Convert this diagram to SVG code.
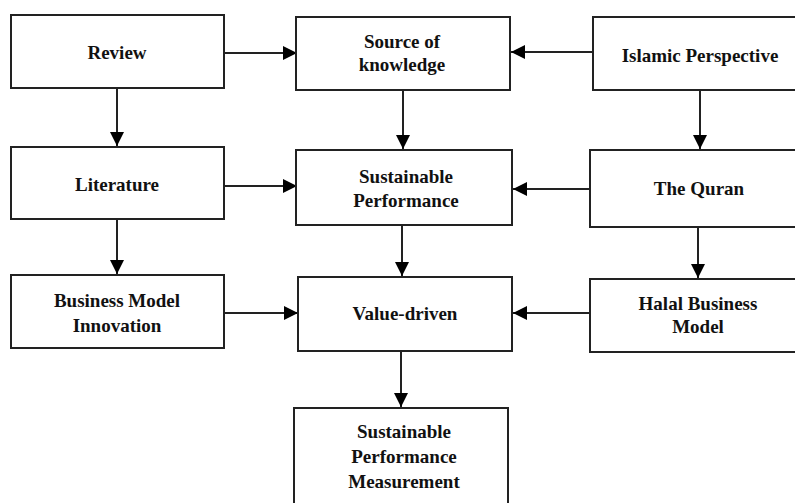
<svg xmlns="http://www.w3.org/2000/svg" width="795" height="503" viewBox="0 0 795 503">
<style>
.box{fill:#fff;stroke:#222;stroke-width:2}
.t{font-family:"Liberation Serif","Times New Roman",serif;font-weight:bold;font-size:19px;fill:#111;text-anchor:middle}
.c{stroke:#222;stroke-width:2;fill:none;marker-end:url(#ah)}
</style>
<defs>
<marker id="ah" markerUnits="userSpaceOnUse" markerWidth="14" markerHeight="14" viewBox="0 0 14 14" refX="14" refY="7" orient="auto">
<path d="M0,0 L14,7 L0,14 Z" fill="#000"/>
</marker>
</defs>
<rect width="795" height="503" fill="#fff"/>
<g id="connectors">
<line class="c" x1="224" y1="53" x2="297" y2="53"/>
<line class="c" x1="593" y1="52" x2="511" y2="52"/>
<line class="c" x1="117" y1="88" x2="117" y2="146"/>
<line class="c" x1="403" y1="90" x2="403" y2="149"/>
<line class="c" x1="700" y1="90" x2="700" y2="149"/>
<line class="c" x1="224" y1="186" x2="297" y2="186"/>
<line class="c" x1="590" y1="189" x2="513" y2="189"/>
<line class="c" x1="117" y1="219" x2="117" y2="274"/>
<line class="c" x1="402" y1="225" x2="402" y2="276"/>
<line class="c" x1="698" y1="227" x2="698" y2="278"/>
<line class="c" x1="224" y1="313" x2="298" y2="313"/>
<line class="c" x1="590" y1="313" x2="513" y2="313"/>
<line class="c" x1="401" y1="351" x2="401" y2="407"/>
</g>
<g id="review"><rect class="box" x="11" y="15" width="213" height="73"/><text class="t" x="117" y="59">Review</text></g>
<g id="source"><rect class="box" x="296" y="17" width="214" height="73"/><text class="t" x="402" y="48">Source of</text><text class="t" x="402" y="71">knowledge</text></g>
<g id="islamic"><rect class="box" x="593" y="17" width="230" height="73"/><text class="t" x="700" y="62">Islamic Perspective</text></g>
<g id="literature"><rect class="box" x="11" y="147" width="213" height="72"/><text class="t" x="117" y="191">Literature</text></g>
<g id="sustainable"><rect class="box" x="296" y="150" width="216" height="75"/><text class="t" x="406" y="183">Sustainable</text><text class="t" x="406" y="207">Performance</text></g>
<g id="quran"><rect class="box" x="590" y="150" width="230" height="77"/><text class="t" x="699" y="195">The Quran</text></g>
<g id="bmi"><rect class="box" x="11" y="275" width="213" height="73"/><text class="t" x="117" y="307">Business Model</text><text class="t" x="117" y="332">Innovation</text></g>
<g id="value"><rect class="box" x="298" y="277" width="214" height="74"/><text class="t" x="405" y="320">Value-driven</text></g>
<g id="halal"><rect class="box" x="590" y="279" width="230" height="73"/><text class="t" x="698" y="310">Halal Business</text><text class="t" x="698" y="333">Model</text></g>
<g id="spm"><rect class="box" x="294" y="408" width="214" height="120"/><text class="t" x="404" y="438">Sustainable</text><text class="t" x="404" y="463">Performance</text><text class="t" x="404" y="488">Measurement</text></g>
</svg>
